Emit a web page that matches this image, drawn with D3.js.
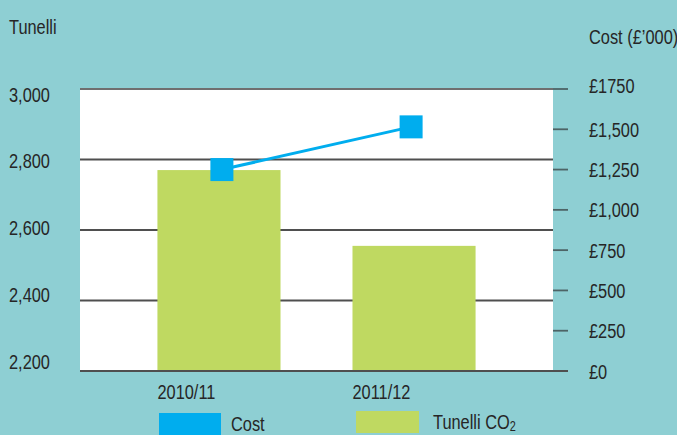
<!DOCTYPE html>
<html>
<head>
<meta charset="utf-8">
<script src="https://cdn.jsdelivr.net/npm/d3@7"></script>
<style>
  html, body { margin: 0; padding: 0; background: #8ecfd3; }
  svg { display: block; }
  text { font-family: "Liberation Sans", Arial, sans-serif; fill: #262626; }
</style>
</head>
<body>
<svg id="chart" width="677" height="435"></svg>
<script>
const categories = ["2010/11", "2011/12"];
const tunelliValues = [2770, 2555];
const costValues = [1250, 1515];
const leftTicks = [2200, 2400, 2600, 2800, 3000];
const rightTicks = [0, 250, 500, 750, 1000, 1250, 1500, 1750];
const rightTickLabels = ["£0", "£250", "£500", "£750", "£1,000", "£1,250", "£1,500", "£1750"];
const legendItems = ["Cost", "Tunelli CO2"];

const W = 677, H = 435;
const plot = { left: 80, right: 553, top: 89, bottom: 371 };
const colors = { bg: "#8ecfd3", bar: "#bfd961", cost: "#00adee", grid: "#4f4f4f", tick: "#4d6466" };
const FS = 21, SX = 0.78;
const tf = (x, y) => `translate(${x},${y}) scale(${SX},1)`;

const svg = d3.select("#chart");
svg.append("rect").attr("width", W).attr("height", H).attr("fill", colors.bg);

const x = d3.scaleBand().domain(categories).range([plot.left, plot.right])
  .paddingInner(0.369).paddingOuter(0.397);
const xp = d3.scalePoint().domain(categories).range([plot.left, plot.right]).padding(0.75);
const yL = d3.scaleLinear().domain([2200, 3000]).range([plot.bottom, plot.top]);
const yLabel = yL.copy().range([361.5, 94]);
const yR = d3.scaleLinear().domain([0, 1750]).range([plot.bottom, plot.top]);

// plot background
svg.append("rect").attr("x", plot.left).attr("y", plot.top)
  .attr("width", plot.right - plot.left).attr("height", plot.bottom - plot.top).attr("fill", "#ffffff");

// gridlines
svg.append("g").selectAll("line").data(leftTicks).join("line")
  .attr("x1", plot.left).attr("x2", plot.right)
  .attr("y1", d => yL(d)).attr("y2", d => yL(d))
  .attr("stroke", (d, i) => i === leftTicks.length - 1 ? "#6f6f6f" : colors.grid)
  .attr("stroke-width", 1.8);

// left labels
svg.append("g").selectAll("text").data(leftTicks).join("text")
  .attr("transform", d => tf(9, yLabel(d))).attr("dy", "0.36em")
  .attr("font-size", FS).text(d => d3.format(",")(d));

// right ticks
svg.append("g").selectAll("line").data(rightTicks).join("line")
  .attr("x1", plot.right).attr("x2", plot.right + 15)
  .attr("y1", d => yR(d)).attr("y2", d => yR(d))
  .attr("stroke", colors.tick).attr("stroke-width", 1.8);

svg.append("g").selectAll("text").data(rightTicks).join("text")
  .attr("transform", (d, i) => tf(589, yR(d) - (i === rightTicks.length - 1 ? 4 : 0))).attr("dy", "0.36em")
  .attr("font-size", FS).text((d, i) => rightTickLabels[i]);

// axis titles
svg.append("text").attr("transform", tf(9, 34)).attr("font-size", FS).text("Tunelli");
svg.append("text").attr("transform", tf(589, 44)).attr("font-size", FS).text("Cost (£’000)");

// bars
svg.append("g").selectAll("rect").data(categories).join("rect")
  .attr("x", d => x(d)).attr("width", x.bandwidth())
  .attr("y", (d, i) => yL(tunelliValues[i]))
  .attr("height", (d, i) => plot.bottom - yL(tunelliValues[i]))
  .attr("fill", colors.bar);

// bottom axis line
svg.append("line").attr("x1", plot.left).attr("x2", plot.right + 15)
  .attr("y1", plot.bottom).attr("y2", plot.bottom)
  .attr("stroke", colors.grid).attr("stroke-width", 1.8);

// category labels
svg.append("g").selectAll("text").data(categories).join("text")
  .attr("transform", d => tf(x(d), 399)).attr("font-size", FS).text(d => d);

// cost line
const line = d3.line().x((d, i) => xp(categories[i])).y(d => yR(d));
svg.append("path").datum(costValues).attr("d", line)
  .attr("fill", "none").attr("stroke", colors.cost).attr("stroke-width", 3);
const sq = 23;
svg.append("g").selectAll("rect").data(costValues).join("rect")
  .attr("x", (d, i) => xp(categories[i]) - sq / 2).attr("y", d => yR(d) - sq / 2)
  .attr("width", sq).attr("height", sq).attr("fill", colors.cost);

// legend
const lg = svg.append("g");
lg.append("rect").attr("x", 159).attr("y", 413).attr("width", 62).attr("height", 30).attr("fill", colors.cost);
lg.append("text").attr("transform", tf(231, 431)).attr("font-size", FS).text(legendItems[0]);
lg.append("rect").attr("x", 356).attr("y", 411).attr("width", 63).attr("height", 22).attr("fill", colors.bar);
const t2 = lg.append("text").attr("transform", tf(433, 429)).attr("font-size", FS);
t2.append("tspan").text("Tunelli CO");
t2.append("tspan").attr("font-size", 14).attr("dy", 2).text("2");
</script>
</body>
</html>
